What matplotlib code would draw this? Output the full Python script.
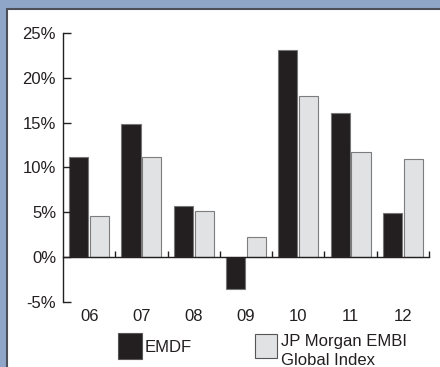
import numpy as np
import matplotlib
matplotlib.use('Agg')
import matplotlib.pyplot as plt
from matplotlib.patches import Rectangle

years = ['06', '07', '08', '09', '10', '11', '12']
emdf = [11.2, 14.9, 5.7, -3.6, 23.1, 16.1, 4.9]
embi = [4.6, 11.2, 5.2, 2.3, 18.0, 11.7, 10.9]
yticks = [-5, 0, 5, 10, 15, 20, 25]

plt.rcParams['font.family'] = ['Liberation Sans', 'DejaVu Sans']
plt.rcParams['font.size'] = 12

W, H = 440, 367
fig = plt.figure(figsize=(W / 100, H / 100), dpi=100, facecolor='#8fa6c8')

# white panel with dark frame (behind the axes)
fig.add_artist(Rectangle((7 / W, -0.1), 1.0, 1 - 9 / H + 0.1, transform=fig.transFigure,
                         facecolor='white', edgecolor='#4d5059', lw=1.5, zorder=-5))

ax = fig.add_axes([63 / W, 65 / H, 366 / W, 269 / H])
ax.set_facecolor('none')

x = np.arange(len(years))
ax.bar(x - 0.2, emdf, 0.365, color='#231f20', edgecolor='#777777', lw=0.8)
ax.bar(x + 0.2, embi, 0.365, color='#e1e2e4', edgecolor='#7d7d7d', lw=0.8)

ax.set_xlim(-0.5, 6.5)
ax.set_ylim(-5, 25)
ax.set_yticks(yticks)
ax.set_yticklabels([f'{v}%' for v in yticks])
ax.tick_params(axis='y', direction='in', length=6, width=1, pad=5, colors='#231f20')

ax.spines['top'].set_visible(False)
ax.spines['right'].set_visible(False)
ax.spines['bottom'].set_position(('data', 0))
for s in ('left', 'bottom'):
    ax.spines[s].set_color('#231f20')
    ax.spines[s].set_linewidth(1)

ax.set_xticks(x)
ax.set_xticklabels(years)
ax.set_xticks(x + 0.5, minor=True)
ax.tick_params(axis='x', which='major', length=0, pad=37, colors='#231f20')
ax.tick_params(axis='x', which='minor', direction='in', length=4.5, width=1, color='#231f20')

# legend
fig.add_artist(Rectangle((118 / W, 1 - 359 / H), 24 / W, 26 / H, transform=fig.transFigure,
                         facecolor='#231f20', edgecolor='#555555', lw=0.8))
fig.text(145 / W, 1 - 347 / H, 'EMDF', va='center', ha='left', color='#231f20')
fig.add_artist(Rectangle((255 / W, 1 - 358 / H), 22 / W, 24 / H, transform=fig.transFigure,
                         facecolor='#e1e2e4', edgecolor='#555555', lw=0.8))
fig.text(281 / W, 1 - 351 / H, 'JP Morgan EMBI\nGlobal Index', va='center', ha='left',
         color='#231f20', linespacing=1.3)

fig.savefig('out.png', dpi=100, facecolor=fig.get_facecolor())
